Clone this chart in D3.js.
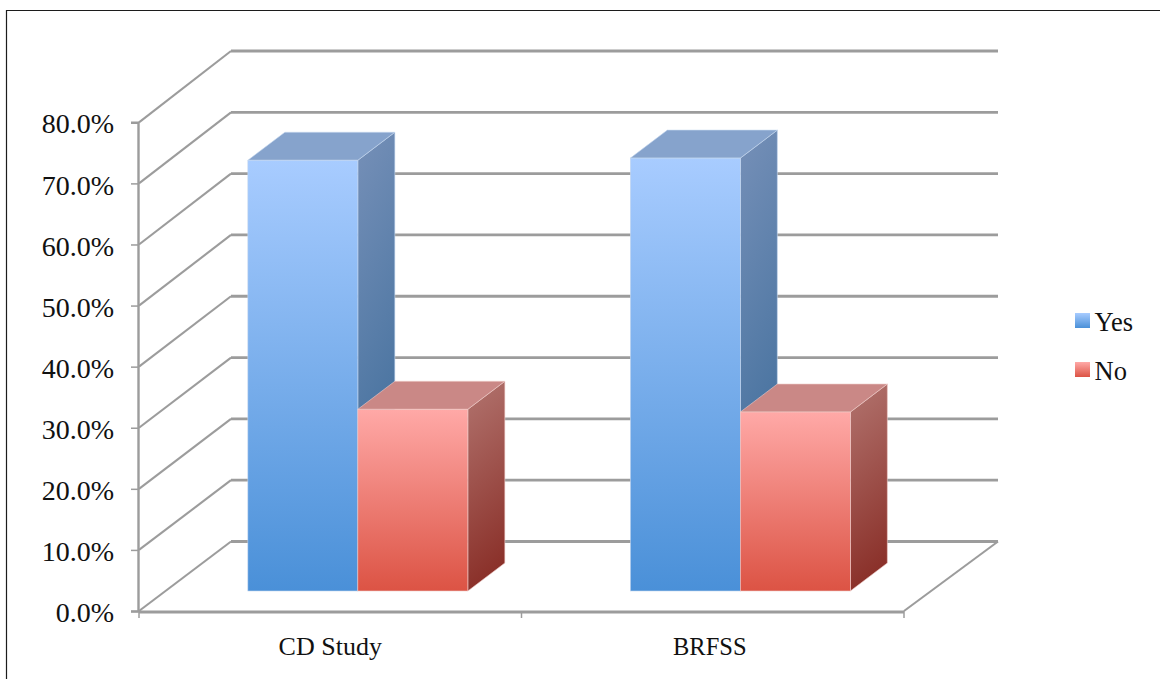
<!DOCTYPE html>
<html>
<head>
<meta charset="utf-8">
<script src="https://cdn.jsdelivr.net/npm/d3@7"></script>
<style>
  html, body { margin: 0; padding: 0; background: #fff; }
  svg { display: block; }
  text { font-family: "Liberation Serif", serif; fill: #111; }
</style>
</head>
<body>
<svg id="chart" width="1160" height="679"></svg>
<script>
var categories = ["CD Study", "BRFSS"];
var seriesNames = ["Yes", "No"];
var yesValues = [70.4, 70.75];
var noValues = [29.7, 29.25];
var yTicks = [0, 10, 20, 30, 40, 50, 60, 70, 80];

var grey = "#9c9c9c";
var colors = {
	Yes: { hi: "#a8ccff", lo: "#4a90d8", top: "#86a3cc", sideHi: "#7690b8", sideLo: "#3a6a98", edge: "#c4d6ee" },
	No: { hi: "#ffa9a7", lo: "#dc5344", top: "#ca8886", sideHi: "#b2746f", sideLo: "#8a3029", edge: "#eecbc8" }
};

var svg = d3.select("#chart");
var defs = svg.append("defs");

// front, wall and bar planes each get their own value scale
var y = d3.scaleLinear().domain([0, 80]).range([611, 122.3]);
var wallY = d3.scaleLinear().domain([0, 80]).range([541.5, 51]);
var barY = d3.scaleLinear().domain([0, 80]).range([591, 101.5]);

var x = d3.scaleBand().domain(categories).range([139, 904]);
var depthX = 93, barDepthX = 37, barDepthY = 28;
var barShift = 27.6;
var barWidth = 110;
var inner = d3.scaleBand().domain(seriesNames).range([-barWidth, barWidth]);

// chart frame
svg.append("path")
	.attr("d", "M6.5,679V10.5H1160")
	.attr("fill", "none")
	.attr("stroke", "#1c1c1c")
	.attr("stroke-width", 1.2);

seriesNames.forEach(function(s) {
	var c = colors[s];
	var front = defs.append("linearGradient").attr("id", "front" + s)
		.attr("x1", 0).attr("y1", 0).attr("x2", 0).attr("y2", 1);
	front.append("stop").attr("offset", 0).attr("stop-color", c.hi);
	front.append("stop").attr("offset", 1).attr("stop-color", c.lo);
	var side = defs.append("linearGradient").attr("id", "side" + s)
		.attr("x1", 0).attr("y1", 0).attr("x2", 0.15).attr("y2", 1);
	side.append("stop").attr("offset", 0).attr("stop-color", c.sideHi);
	side.append("stop").attr("offset", 1).attr("stop-color", c.sideLo);
});

// back wall grid lines with their diagonal returns to the axis
var grid = svg.append("g").attr("fill", "none").attr("stroke", grey);
grid.selectAll("path.diag").data(yTicks).enter().append("path")
	.attr("class", "diag")
	.attr("stroke-width", 2.1)
	.attr("d", function(d) {
		return "M" + x.range()[0] + "," + y(d) +
			"L" + (x.range()[0] + depthX - 1) + "," + wallY(d);
	});
grid.selectAll("line.wall").data(yTicks).enter().append("line")
	.attr("class", "wall")
	.attr("stroke-width", 2.8)
	.attr("x1", x.range()[0] + depthX - 1)
	.attr("x2", 998)
	.attr("y1", function(d) { return wallY(d); })
	.attr("y2", function(d) { return wallY(d); });

// floor edge on the right
grid.append("path")
	.attr("stroke-width", 2.1)
	.attr("d", "M" + x.range()[1] + "," + y(0) + "L998," + wallY(0));

// value axis
var yAxis = d3.axisLeft(y)
	.tickValues(yTicks)
	.tickSize(7)
	.tickPadding(17)
	.tickFormat(function(d) { return d3.format(".1f")(d) + "%"; });
var yG = svg.append("g").attr("transform", "translate(138,0)").call(yAxis);
yG.select(".domain").attr("stroke", grey).attr("stroke-width", 2.4);
yG.selectAll(".tick line").attr("stroke", grey).attr("stroke-width", 1.5);
yG.selectAll(".tick text")
	.attr("font-family", "Liberation Serif")
	.attr("font-size", 28)
	.attr("dy", "0.38em")
	.attr("fill", "#111");

// category axis, ticks sit on the band edges
var xEdges = d3.scalePoint().domain(d3.range(categories.length + 1)).range(x.range());
var xG = svg.append("g");
xG.append("line")
	.attr("x1", x.range()[0]).attr("x2", x.range()[1])
	.attr("y1", y(0) + 1).attr("y2", y(0) + 1)
	.attr("stroke", grey).attr("stroke-width", 2.8);
xG.selectAll("line.tick").data(xEdges.domain()).enter().append("line")
	.attr("class", "tick")
	.attr("x1", function(d) { return xEdges(d); })
	.attr("x2", function(d) { return xEdges(d); })
	.attr("y1", y(0)).attr("y2", y(0) + 7)
	.attr("stroke", grey).attr("stroke-width", 1.5);
xG.selectAll("text").data(categories).enter().append("text")
	.attr("x", function(d) { return x(d) + x.bandwidth() / 2 - (d === "BRFSS" ? 3 : 0); })
	.attr("y", 655)
	.attr("text-anchor", "middle")
	.attr("font-size", function(d) { return d === "BRFSS" ? 24.5 : 26; })
	.text(function(d) { return d; });

// one 3d column: front, top and side faces
function drawBar(g, s, cat, value) {
	var left = x(cat) + x.bandwidth() / 2 + barShift + inner(s);
	var right = left + inner.bandwidth();
	var t = barY(value), b = barY(0);
	var c = colors[s];
	g.append("path")
		.attr("d", "M" + right + "," + t + "l" + barDepthX + "," + (-barDepthY) +
			"V" + (b - barDepthY) + "L" + right + "," + b + "Z")
		.attr("fill", "url(#side" + s + ")")
		.attr("stroke", c.edge).attr("stroke-width", 0.6);
	g.append("path")
		.attr("d", "M" + left + "," + t + "l" + barDepthX + "," + (-barDepthY) +
			"h" + inner.bandwidth() + "l" + (-barDepthX) + "," + barDepthY + "Z")
		.attr("fill", c.top)
		.attr("stroke", c.edge).attr("stroke-width", 0.6);
	g.append("rect")
		.attr("x", left).attr("y", t)
		.attr("width", inner.bandwidth()).attr("height", b - t)
		.attr("fill", "url(#front" + s + ")")
		.attr("stroke", c.edge).attr("stroke-width", 0.6);
}

var bars = svg.append("g");
categories.forEach(function(cat, i) {
	drawBar(bars, "Yes", cat, yesValues[i]);
	drawBar(bars, "No", cat, noValues[i]);
});

// legend
var legend = svg.append("g").selectAll("g").data(seriesNames).enter().append("g")
	.attr("transform", function(d, i) { return "translate(1075," + (313 + i * 49) + ")"; });
legend.append("rect")
	.attr("width", 15).attr("height", 15)
	.attr("fill", function(d) { return "url(#front" + d + ")"; });
legend.append("text")
	.attr("x", 19.5).attr("y", 18)
	.attr("font-size", 26.5)
	.text(function(d) { return d; });
</script>
</body>
</html>
